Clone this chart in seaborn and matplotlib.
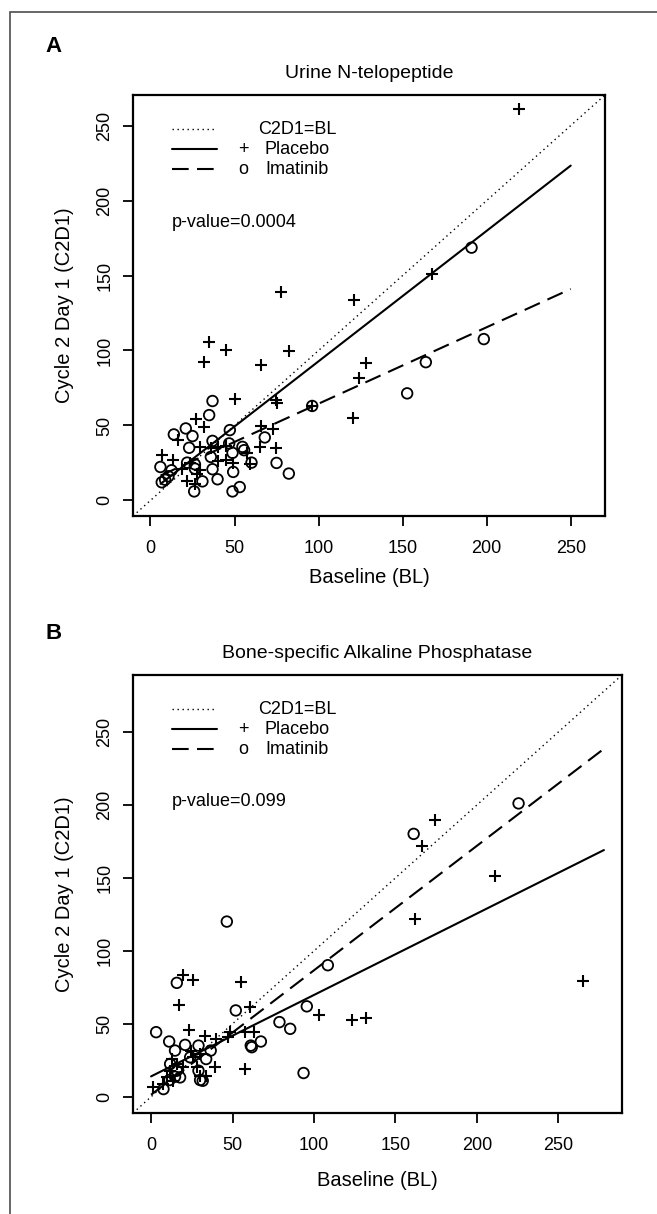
import numpy as np
import pandas as pd
import matplotlib
matplotlib.use("Agg")
import matplotlib.pyplot as plt
from matplotlib.lines import Line2D
from matplotlib.patches import Rectangle
import seaborn as sns

# ---------------- data ----------------
a_pla_bl = [34.9, 44.8, 31.9, 82.3, 66.0, 50.0, 74.4, 75.5, 27.2, 31.9, 66.0, 73.0, 16.1, 6.7,
            13.5, 18.8, 23.8, 29.3, 35.9, 40.3, 44.8, 40.3, 44.8, 48.8, 57.7, 59.1, 65.0, 74.4,
            22.0, 26.4, 27.4, 29.3, 120.4, 124.1, 128.5, 120.9, 167.2, 219.1, 77.9, 96.2]
a_pla_c2 = [105.4, 100.5, 92.2, 99.4, 90.2, 67.4, 66.8, 65.0, 54.3, 49.1, 49.6, 47.3, 40.6, 30.1,
            26.8, 21.2, 25.0, 35.3, 35.1, 35.7, 36.4, 26.1, 26.8, 25.2, 31.3, 24.6, 35.7, 35.1,
            12.7, 11.2, 17.9, 20.1, 54.7, 81.5, 91.5, 133.5, 151.2, 260.8, 139.1, 63.0]
a_ima_bl = [36.9, 34.9, 21.0, 13.9, 25.0, 47.2, 23.0, 36.9, 46.8, 48.8, 54.7, 55.7, 68.0, 60.1,
            75.0, 82.3, 35.9, 36.9, 39.9, 49.2, 30.9, 26.0, 48.8, 53.1, 26.4, 21.8, 5.9, 12.5,
            6.7, 8.7, 10.7, 26.4, 96.2, 152.7, 163.8, 198.3, 191.0]
a_ima_c2 = [66.3, 56.9, 48.0, 44.0, 42.9, 46.9, 35.1, 39.7, 38.0, 31.7, 35.7, 33.5, 42.0, 25.2,
            25.0, 17.9, 29.0, 20.8, 14.1, 19.0, 12.7, 6.0, 6.0, 8.9, 24.1, 25.2, 22.3, 20.1,
            12.1, 13.8, 16.1, 21.2, 63.0, 71.4, 92.2, 107.6, 168.6]

b_pla_bl = [19.9, 26.0, 17.4, 55.3, 60.8, 23.5, 32.8, 48.5, 47.5, 57.7, 63.3, 102.8, 123.3, 132.0,
            57.7, 39.3, 39.9, 24.4, 30.1, 12.7, 16.1, 1.4, 7.6, 13.7, 19.5, 28.1, 30.1, 33.8,
            11.7, 9.6, 26.0, 162.3, 166.3, 174.0, 211.3, 265.4]
b_pla_c2 = [83.8, 79.9, 63.1, 78.7, 61.5, 46.1, 42.0, 44.3, 40.9, 44.3, 44.3, 55.8, 52.3, 54.0,
            19.1, 20.2, 39.7, 31.7, 29.4, 25.9, 22.5, 6.4, 8.7, 11.0, 20.2, 20.2, 14.5, 14.5,
            17.9, 13.3, 27.1, 121.7, 171.7, 189.4, 151.5, 79.2]
b_ima_bl = [46.5, 108.5, 95.6, 78.8, 85.4, 61.2, 61.8, 67.4, 93.6, 52.0, 3.1, 11.1, 15.8, 20.9,
            29.1, 36.6, 33.8, 14.7, 24.0, 11.7, 15.8, 17.8, 11.3, 7.6, 29.1, 30.1, 31.7, 14.7,
            161.2, 225.6]
b_ima_c2 = [120.1, 90.2, 62.0, 51.2, 46.6, 35.1, 34.0, 37.9, 16.3, 59.2, 44.3, 37.9, 78.1, 35.6,
            35.1, 31.7, 25.9, 31.7, 27.1, 22.5, 17.9, 13.3, 11.5, 5.3, 17.9, 11.5, 11.0, 13.8,
            180.2, 201.1]

# fitted lines (intercept, slope) and x-range
a_fit_x = [6, 250]
a_pla_fit = (5.8, 0.87)
a_ima_fit = (13.5, 0.51)
b_fit_x = [0, 278]
b_pla_fit = (14.0, 0.558)
b_ima_fit = (1.4, 0.853)

ticks = [0, 50, 100, 150, 200, 250]
titles = ["Urine N-telopeptide", "Bone-specific Alkaline Phosphatase"]
pvals = ["p-value=0.0004", "p-value=0.099"]
legend_labels = ["C2D1=BL", "Placebo", "Imatinib"]
panel_letters = ["A", "B"]

# ---------------- style ----------------
sns.set_theme(style="white")
plt.rcParams["font.family"] = ["Liberation Sans", "DejaVu Sans"]
plt.rcParams["axes.edgecolor"] = "black"
plt.rcParams["axes.linewidth"] = 1.5
plt.rcParams["xtick.color"] = "black"
plt.rcParams["ytick.color"] = "black"
plt.rcParams["text.color"] = "black"
plt.rcParams["axes.labelcolor"] = "black"
plt.rcParams["axes.titlecolor"] = "black"

W, H = 657, 1214
fig = plt.figure(figsize=(W / 100, H / 100), dpi=100)
fig.patch.set_facecolor("white")

# axes frames in pixel coords: (left, right, top, bottom)
frames = [(133, 605, 95, 516), (133, 622, 675, 1113)]
lims = [(-10.4, 270.4), (-11.1, 289.1)]
xlabel_off = [61, 67]

DASH = (0, (8, 4))
DOT = (0, (1, 2.6))

panels = [
    (a_pla_bl, a_pla_c2, a_ima_bl, a_ima_c2, a_fit_x, a_pla_fit, a_ima_fit),
    (b_pla_bl, b_pla_c2, b_ima_bl, b_ima_c2, b_fit_x, b_pla_fit, b_ima_fit),
]

for i, (pbl, pc2, ibl, ic2, fx, pfit, ifit) in enumerate(panels):
    l, r, t, b = frames[i]
    ax = fig.add_axes([l / W, 1 - b / H, (r - l) / W, (b - t) / H])
    lo, hi = lims[i]

    # identity line
    diag = np.array([lo, hi])
    sns.lineplot(x=diag, y=diag, ax=ax, color="black", lw=1.0, linestyle=DOT,
                 estimator=None, sort=False)

    # fitted lines
    fx = np.array(fx, dtype=float)
    sns.lineplot(x=fx, y=pfit[0] + pfit[1] * fx, ax=ax, color="black", lw=1.5,
                 estimator=None, sort=False)
    sns.lineplot(x=fx, y=ifit[0] + ifit[1] * fx, ax=ax, color="black", lw=1.5,
                 linestyle=DASH, estimator=None, sort=False)

    # points
    sns.scatterplot(x=pbl, y=pc2, ax=ax, marker="+", s=85, color="black", linewidth=1.5)
    sns.scatterplot(x=ibl, y=ic2, ax=ax, marker="o", s=58, facecolor="none",
                    edgecolor="black", linewidth=1.3)

    ax.set_xlim(lo, hi)
    ax.set_ylim(lo, hi)
    ax.set_xticks(ticks)
    ax.set_yticks(ticks)
    ax.tick_params(axis="both", which="major", length=7, width=1.3, direction="out",
                   labelsize=13, bottom=True, left=True, labelcolor="black")
    ax.tick_params(axis="x", pad=10)
    ax.tick_params(axis="y", pad=7)
    for lab in ax.get_yticklabels():
        lab.set_rotation(90)
        lab.set_va("center")
    for sp in ax.spines.values():
        sp.set_visible(True)
        sp.set_linewidth(1.6)
        sp.set_color("black")

    ax.set_xlabel("Baseline (BL)", fontsize=14.5)
    ax.set_ylabel("Cycle 2 Day 1 (C2D1)", fontsize=14.5)
    ax.xaxis.set_label_coords(0.5, -xlabel_off[i] / (b - t))
    ax.xaxis.label.set_va("center")
    ax.yaxis.set_label_coords((65 - l) / (r - l), 0.5)
    ax.yaxis.label.set_va("center")

    ax.set_title(titles[i], fontsize=14, pad=12)

    # legend drawn R-style: line sample, symbol, text
    fw, fh = (r - l), (b - t)
    rows_px = [34, 54, 74]
    styles = [DOT, "-", DASH]
    lws = [1.0, 1.5, 1.5]
    syms = [None, "+", "o"]
    for k in range(3):
        yy = 1 - rows_px[k] / fh
        ax.add_line(Line2D([(172 - l) / fw, (217 - l) / fw], [yy, yy], transform=ax.transAxes,
                           color="black", lw=lws[k], linestyle=styles[k]))
        if syms[k] is not None:
            ax.text((243 - l) / fw, yy, syms[k], transform=ax.transAxes, fontsize=13,
                    ha="center", va="center")
        tx = 258 if k == 0 else 265
        ax.text((tx - l) / fw, yy, legend_labels[k], transform=ax.transAxes, fontsize=13,
                ha="left", va="center")
    ax.text((172 - l) / fw, 1 - 127 / fh, pvals[i], transform=ax.transAxes, fontsize=13,
            ha="left", va="center")

    fig.text(54 / W, 1 - (47 if i == 0 else 634) / H, panel_letters[i], fontsize=16,
             fontweight="bold", ha="center", va="center")

# outer gray border (partially cropped)
fig.add_artist(Rectangle((10 / W, -0.01), 1.0, 1 - 12 / H + 0.01, transform=fig.transFigure,
                         fill=False, edgecolor="#4d4d4d", lw=1.2))

fig.savefig("out.png", dpi=100)
